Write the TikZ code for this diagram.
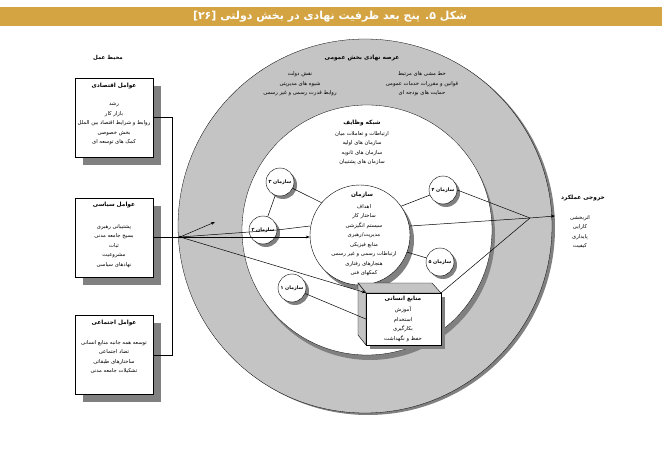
\documentclass[tikz,border=0pt]{standalone}
\usepackage{fontspec}
\newfontfamily\fa[Script=Arabic]{DejaVu Sans}
\usetikzlibrary{arrows.meta}
\TeXXeTstate=1
\newcommand{\RR}[1]{\beginR #1\endR}
\definecolor{bar}{HTML}{D4A443}
\definecolor{band}{HTML}{C4C4C4}
\definecolor{shad}{HTML}{808080}
\begin{document}
\begin{tikzpicture}[x=1pt,y=-1pt,
  txt/.style={font=\fa\fontsize{5.3}{9.5}\selectfont,align=center,inner sep=0},
  ttl/.style={font=\fa\bfseries\fontsize{5.8}{7}\selectfont,inner sep=0},
  org/.style={circle,draw,fill=white,minimum size=28pt,inner sep=0,font=\fa\bfseries\fontsize{4.8}{5}\selectfont},
  ln/.style={draw=black,line width=0.5pt},
  arr/.style={ln,-{Stealth[length=4pt,width=3pt]}}]
\useasboundingbox (0,0) rectangle (662,460);
% title
\fill[bar] (0,7) rectangle (662,26);
\node[font=\fa\bfseries\fontsize{11}{12}\selectfont,text=white] (title) at (330,16.5) {\RR{شکل ۵. پنج بعد ظرفیت نهادی در بخش دولتی [۲۶]}};
% outer ring
\fill[shad] (368,228) circle (187);
\fill[band,draw=black,line width=0.3pt] (365,226) circle (187);
\fill[shad] (370,235) circle (125);
\fill[white,draw=black,line width=0.3pt] (367,230) circle (125);
\node[ttl] (arena) at (362,58) {\RR{عرصه نهادی بخش عمومی}};
\node[txt] (arenaL) at (300,84) {\RR{نقش دولت}\\\RR{شیوه های مدیریتی}\\\RR{روابط قدرت رسمی و غیر رسمی}};
\node[txt] (arenaR) at (422,84) {\RR{خط مشی های مرتبط}\\\RR{قوانین و مقررات خدمات عمومی}\\\RR{حمایت های بودجه ای}};
\node[ttl] (net) at (362,123) {\RR{شبکه وظایف}};
\node[txt] (netT) at (362,148) {\RR{ارتباطات و تعاملات میان}\\\RR{سازمان های اولیه}\\\RR{سازمان های ثانویه}\\\RR{سازمان های پشتیبان}};
% central circle
\fill[shad] (364,240) circle (50);
\node[circle,draw,fill=white,minimum size=100pt,inner sep=0] (org) at (360,235) {};
\node[ttl] (orgT) at (362,195) {\RR{سازمان}};
\node[txt] (orgL) at (364,240) {\RR{اهداف}\\\RR{ساختار کار}\\\RR{سیستم انگیزشی}\\\RR{مدیریت/رهبری}\\\RR{منابع فیزیکی}\\\RR{ارتباطات رسمی و غیر رسمی}\\\RR{هنجارهای رفتاری}\\\RR{کمکهای فنی}};
% small circles
\foreach \n/\x/\y in {3/280/182,2/263/230,1/292/288,4/443/190,5/440/262}{\fill[shad] (\x+3,\y+3) circle (14);}
\node[org] (o3) at (280,182) {\RR{سازمان ۳}};
\node[org] (o2) at (263,230) {\RR{سازمان ۲}};
\node[org] (o1) at (292,288) {\RR{سازمان ۱}};
\node[org] (o4) at (443,190) {\RR{سازمان ۴}};
\node[org] (o5) at (440,262) {\RR{سازمان ۵}};
% box
\fill[shad] (370,297) rectangle (445,349);
\filldraw[fill=band,line width=0.4pt] (358,283) -- (432,283) -- (441,293) -- (366,293) -- cycle;
\filldraw[fill=band,line width=0.4pt] (358,283) -- (366,293) -- (366,345) -- (358,335) -- cycle;
\node[draw,fill=white,line width=0.4pt,minimum width=75pt,minimum height=52pt,inner sep=0] (hr) at (403.5,319) {};
\node[ttl] (hrT) at (403,299) {\RR{منابع انسانی}};
\node[txt] (hrL) at (403,324) {\RR{آموزش}\\\RR{استخدام}\\\RR{بکارگیری}\\\RR{حفظ و نگهداشت}};
% left boxes
\node[font=\fa\bfseries\fontsize{5.5}{6}\selectfont] (env) at (108,58) {\RR{محیط عمل}};
\foreach \t in {78,198,315}{\fill[shad] (83,\t+8) rectangle (161,\t+87);}
\node[draw,fill=white,minimum width=78pt,minimum height=79pt,inner sep=0] (eco) at (114.5,117.5) {};
\node[draw,fill=white,minimum width=78pt,minimum height=79pt,inner sep=0] (pol) at (114.5,237.5) {};
\node[draw,fill=white,minimum width=78pt,minimum height=79pt,inner sep=0] (soc) at (114.5,354.5) {};
\node[ttl] at (114,86) {\RR{عوامل اقتصادی}};
\node[txt] at (114,124) {\RR{رشد}\\\RR{بازار کار}\\\RR{روابط و شرایط اقتصاد بین الملل}\\\RR{بخش خصوصی}\\\RR{کمک های توسعه ای}};
\node[ttl] at (114,205) {\RR{عوامل سیاسی}};
\node[txt] at (114,246) {\RR{پشتیبانی رهبری}\\\RR{بسیج جامعه مدنی}\\\RR{ثبات}\\\RR{مشروعیت}\\\RR{نهادهای سیاسی}};
\node[ttl] at (114,323) {\RR{عوامل اجتماعی}};
\node[txt] at (114,357) {\RR{توسعه همه جانبه منابع انسانی}\\\RR{تضاد اجتماعی}\\\RR{ساختارهای طبقاتی}\\\RR{تشکیلات جامعه مدنی}};
% left connectors
\coordinate (hub) at (180,237);
\draw[ln] (eco.east |- 0,117) -- (172,117) -- (172,355) -- (soc.east |- 0,355);
\draw[ln] (pol.east |- 0,237) -- (hub);
\fill (hub) circle (1.3);
\draw[arr] (hub) -- (215,222);
\draw[arr] (hub) -- (org.west |- 0,237);
\draw[ln] (hub) -- (o2.east) -- (org.west |- 0,226);
\draw[arr] (hub) -- (hr.north west);
\draw[ln] (o3) -- (o2);
\draw[ln] (o3) -- (org.140);
\draw[ln] (o1) -- (hr.west);
\draw[ln] (o4) -- (org.35);
\draw[ln] (o5) -- (org.-20);
% right connectors
\coordinate (conv) at (530,218);
\coordinate (out) at (555,216);
\draw[ln] (o4.east) -- (conv);
\draw[ln] (org.east |- 0,226) -- (conv);
\draw[ln] (hr.north east) -- (conv);
\draw[arr] (conv) -- (out);
\node[ttl] (outT) at (583,198) {\RR{خروجی عملکرد}};
\node[txt] (outL) at (580,232) {\RR{اثربخشی}\\\RR{کارایی}\\\RR{پایداری}\\\RR{کیفیت}};
\end{tikzpicture}
\end{document}
